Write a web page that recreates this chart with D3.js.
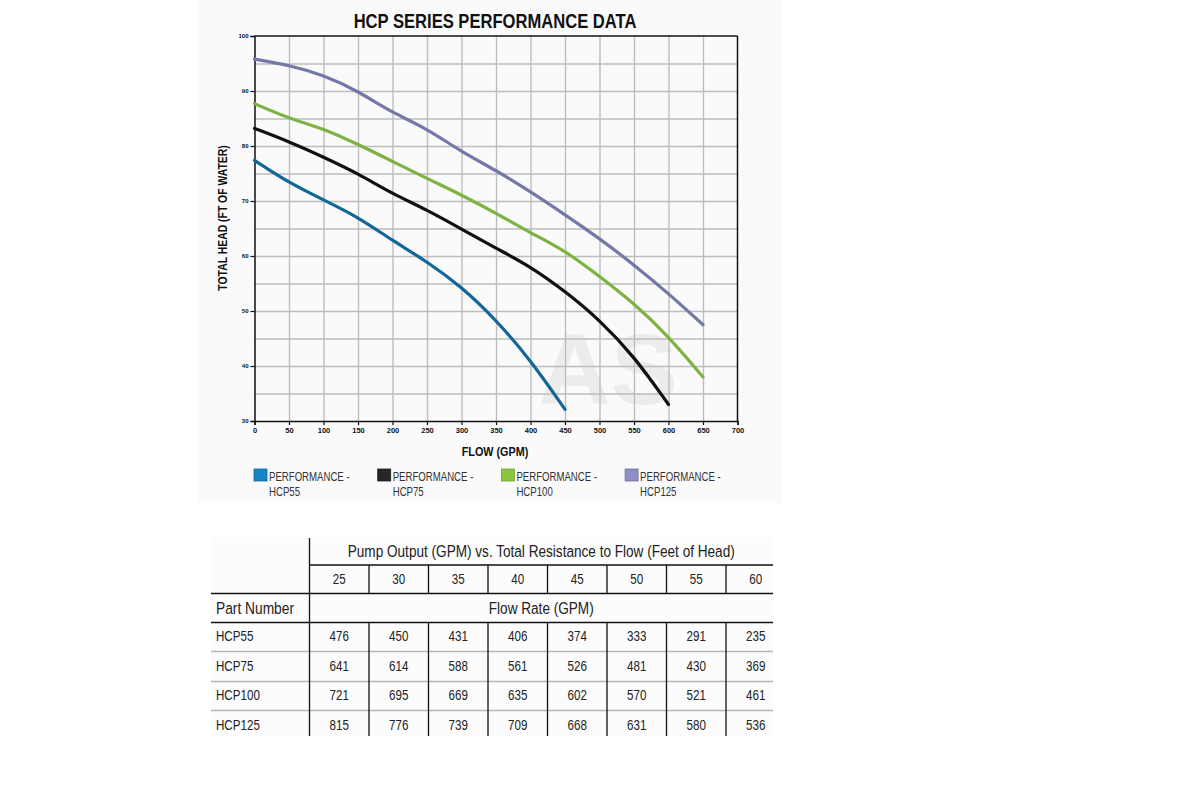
<!DOCTYPE html>
<html>
<head>
<meta charset="utf-8">
<script src="https://cdn.jsdelivr.net/npm/d3@7/dist/d3.min.js"></script>
<style>
  body { margin: 0; background: #fff; }
  svg { display: block; }
</style>
</head>
<body>
<svg id="chart" width="1200" height="800"></svg>
<script>
// flow points along each pump curve (GPM)
var flows = [0, 50, 100, 150, 200, 250, 300, 350, 400, 450, 500, 550, 600, 650];

// total head (ft of water)
var headHCP55  = [77.4, 73.3, 70.2, 67.1, 62.8, 59.0, 54.4, 48.4, 41.1, 32.1];
var headHCP75  = [83.2, 80.8, 78.0, 75.0, 71.3, 68.4, 64.9, 61.4, 58.1, 53.6, 48.4, 41.8, 33.0];
var headHCP100 = [87.7, 85.0, 83.2, 80.3, 77.2, 74.1, 71.1, 67.8, 64.2, 61.0, 56.3, 51.4, 45.4, 38.0];
var headHCP125 = [95.8, 94.7, 92.9, 90.0, 86.0, 83.2, 78.9, 75.6, 71.7, 67.5, 63.2, 58.4, 53.2, 47.5];

var seriesNames = ["HCP55", "HCP75", "HCP100", "HCP125"];
var lineColors  = ["#12669a", "#111111", "#7cb342", "#7478a8"];
var swatchColors = ["#1a82c6", "#262626", "#8cc63f", "#8d8fc2"];

var xTicks = [0, 50, 100, 150, 200, 250, 300, 350, 400, 450, 500, 550, 600, 650, 700];
var yTicks = [30, 40, 50, 60, 70, 80, 90, 100];

// table under the chart
var tableHeads = [25, 30, 35, 40, 45, 50, 55, 60];
var tableParts = ["HCP55", "HCP75", "HCP100", "HCP125"];
var flowHCP55  = [476, 450, 431, 406, 374, 333, 291, 235];
var flowHCP75  = [641, 614, 588, 561, 526, 481, 430, 369];
var flowHCP100 = [721, 695, 669, 635, 602, 570, 521, 461];
var flowHCP125 = [815, 776, 739, 709, 668, 631, 580, 536];

var FONT = "'Liberation Sans', Arial, sans-serif";

var svg = d3.select("#chart");

// no condensed face installed: squeeze the sans horizontally
function label(parent, x, y, str, size, k, opts) {
  opts = opts || {};
  var t = parent.append("text")
    .attr("text-anchor", opts.anchor || "start")
    .style("font-family", FONT)
    .style("font-size", size + "px")
    .style("font-weight", opts.bold ? "bold" : "normal")
    .attr("fill", opts.fill || "#222")
    .text(str);
  t.attr("transform", "translate(" + x + "," + y + ")" + (opts.rot ? " rotate(" + opts.rot + ")" : "") + " scale(" + k + ",1)");
  return t;
}

// faint backdrop of the original graphic
svg.append("rect").attr("x", 198).attr("y", 0).attr("width", 584).attr("height", 503)
  .attr("fill", "#fafafa");

var x = d3.scaleLinear().domain([0, 700]).range([254.5, 737.5]);
var y = d3.scaleLinear().domain([30, 100]).range([421, 36]);

// title
label(svg, 495, 28, "HCP SERIES PERFORMANCE DATA", 21, 0.79, { anchor: "middle", bold: true, fill: "#111" });

// watermark
svg.append("text")
  .attr("x", 608).attr("y", 404)
  .attr("text-anchor", "middle")
  .style("font-family", FONT).style("font-weight", "bold").style("font-size", "100px")
  .attr("fill", "#ececec")
  .text("AS");

// grid
var grid = svg.append("g").attr("class", "grid");
grid.append("g")
  .attr("transform", "translate(0," + y(30) + ")")
  .call(d3.axisBottom(x).tickValues(d3.range(50, 700, 50)).tickSize(-(y(30) - y(100))).tickFormat(""))
  .call(function(g) { g.select(".domain").remove(); });
grid.append("g")
  .attr("transform", "translate(" + x(0) + ",0)")
  .call(d3.axisLeft(y).tickValues(d3.range(35, 100, 5)).tickSize(-(x(700) - x(0))).tickFormat(""))
  .call(function(g) { g.select(".domain").remove(); });
grid.selectAll("line").attr("stroke", "#bdbdbd").attr("stroke-width", 1.4);

// frame top + right
svg.append("line").attr("x1", x(0)).attr("x2", x(700)).attr("y1", y(100)).attr("y2", y(100))
  .attr("stroke", "#111").attr("stroke-width", 1.5);
svg.append("line").attr("x1", x(700)).attr("x2", x(700)).attr("y1", y(100)).attr("y2", y(30))
  .attr("stroke", "#111").attr("stroke-width", 1.5);

// axes
var xAxis = svg.append("g")
  .attr("transform", "translate(0," + y(30) + ")")
  .call(d3.axisBottom(x).tickValues(xTicks).tickSize(4).tickPadding(3));
xAxis.selectAll("text")
  .style("font-family", FONT).style("font-weight", "bold").style("font-size", "7.5px").attr("fill", "#111");

var yAxis = svg.append("g")
  .attr("transform", "translate(" + x(0) + ",0)")
  .call(d3.axisLeft(y).tickValues(yTicks).tickSize(4).tickPadding(2));
yAxis.selectAll("text")
  .style("font-family", FONT).style("font-weight", "bold").style("font-size", "6px").attr("fill", "#111");

svg.selectAll(".domain").attr("stroke", "#111").attr("stroke-width", 1.5);
xAxis.selectAll(".tick line").attr("stroke", "#111").attr("stroke-width", 1.2);
yAxis.selectAll(".tick line").attr("stroke", "#111").attr("stroke-width", 1.2);

// axis titles
label(svg, 495, 456, "FLOW (GPM)", 13.5, 0.8, { anchor: "middle", bold: true, fill: "#111" });
label(svg, 227, 218, "TOTAL HEAD (FT OF WATER)", 13, 0.8, { anchor: "middle", bold: true, fill: "#111", rot: -90 });

// curves
var heads = [headHCP55, headHCP75, headHCP100, headHCP125];
var line = d3.line()
  .x(function(d) { return x(d.flow); })
  .y(function(d) { return y(d.head); })
  .curve(d3.curveBasis);

svg.append("g").selectAll("path")
  .data(heads)
  .enter().append("path")
  .attr("d", function(h) {
    return line(h.map(function(v, i) { return { flow: flows[i], head: v }; }));
  })
  .attr("fill", "none")
  .attr("stroke", function(d, i) { return lineColors[i]; })
  .attr("stroke-width", 3.2)
  .attr("stroke-linejoin", "round")
  .attr("stroke-linecap", "round");

// legend
var legend = svg.append("g").selectAll("g")
  .data(seriesNames)
  .enter().append("g")
  .attr("transform", function(d, i) { return "translate(" + (254 + i * 123.7) + ",469)"; });

legend.append("rect")
  .attr("width", 13).attr("height", 12)
  .attr("fill", function(d, i) { return swatchColors[i]; })
  .attr("stroke", function(d, i) { return d3.color(swatchColors[i]).darker(0.6); })
  .attr("stroke-width", 0.8);

legend.each(function(d) {
  var g = d3.select(this);
  label(g, 15, 12, "PERFORMANCE -", 12.5, 0.77, { fill: "#333" });
  label(g, 15, 26.5, d, 12.5, 0.77, { fill: "#333" });
});

// table
var tbl = svg.append("g");
var tLeft = 211, tSep = 309.5, colW = 59.5, tRight = 773;
var colX = d3.scaleLinear().domain([0, 1]).range([tSep, tSep + colW]);

tbl.append("rect").attr("x", tLeft).attr("y", 537).attr("width", tRight - tLeft).attr("height", 200)
  .attr("fill", "#fcfcfc");

// horizontal rules
var rules = [
  { y: 565, x1: tSep, c: "#111" },
  { y: 593.5, x1: tLeft, c: "#111" },
  { y: 622.5, x1: tLeft, c: "#111" },
  { y: 651.5, x1: tLeft, c: "#b5b5b5" },
  { y: 681.5, x1: tLeft, c: "#b5b5b5" },
  { y: 710.5, x1: tLeft, c: "#b5b5b5" }
];
tbl.selectAll("line.rule").data(rules).enter().append("line")
  .attr("x1", function(d) { return d.x1; }).attr("x2", tRight)
  .attr("y1", function(d) { return d.y; }).attr("y2", function(d) { return d.y; })
  .attr("stroke", function(d) { return d.c; }).attr("stroke-width", 1.3);

tbl.append("line").attr("x1", tSep).attr("x2", tSep).attr("y1", 538).attr("y2", 736)
  .attr("stroke", "#111").attr("stroke-width", 1.3);

var inner = d3.range(1, tableHeads.length);
[[565, 593.5], [622.5, 736]].forEach(function(span) {
  tbl.selectAll(null).data(inner).enter().append("line")
    .attr("x1", function(i) { return colX(i); }).attr("x2", function(i) { return colX(i); })
    .attr("y1", span[0]).attr("y2", span[1])
    .attr("stroke", "#111").attr("stroke-width", 1.3);
});

label(tbl, (tSep + tRight) / 2, 557, "Pump Output (GPM) vs. Total Resistance to Flow (Feet of Head)", 17, 0.8, { anchor: "middle" });

tableHeads.forEach(function(h, i) {
  label(tbl, colX(i + 0.5), 584, h, 14.5, 0.8, { anchor: "middle" });
});

label(tbl, 216, 614, "Part Number", 17, 0.81);
label(tbl, (tSep + tRight) / 2, 614, "Flow Rate (GPM)", 17, 0.8, { anchor: "middle" });

var tableFlows = [flowHCP55, flowHCP75, flowHCP100, flowHCP125];
var rowY = d3.scaleLinear().domain([0, 1]).range([641, 670.5]);

tableParts.forEach(function(p, r) {
  label(tbl, 216, rowY(r), p, 14.5, 0.8);
  tableFlows[r].forEach(function(v, i) {
    label(tbl, colX(i + 0.5), rowY(r), v, 14.5, 0.8, { anchor: "middle" });
  });
});
</script>
</body>
</html>
